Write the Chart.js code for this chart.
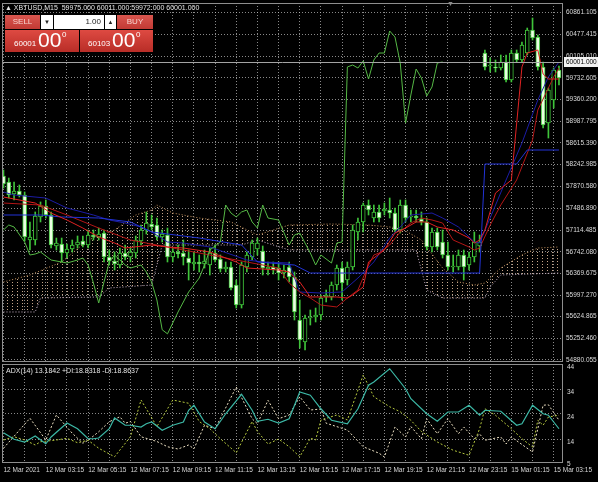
<!DOCTYPE html>
<html>
<head>
<meta charset="utf-8">
<title>XBTUSD,M15</title>
<script src="https://cdn.jsdelivr.net/npm/chart.js@4.4.1/dist/chart.umd.min.js"></script>
<style>
  body { margin: 0; background: #000; width: 598px; height: 482px; overflow: hidden; position: relative; font-family: "Liberation Sans", Arial, sans-serif; }
  canvas { position: absolute; left: 0; }
  #main { top: 0; }
  #adx { top: 355px; }
  .txt { position: absolute; color: #e4e4e4; font-size: 7px; line-height: 8px; white-space: pre; }
  .pn { position: absolute; box-sizing: border-box; overflow: hidden; }
  .top { top: 15px; height: 14px; line-height: 14px; font-size: 8px; text-align: center; }
  .red { background: linear-gradient(#d9564f, #c23a34); color: #f8d4cf; }
  .wht { background: #fff; color: #222; }
  .pbox { top: 30px; height: 22px; background: linear-gradient(#de4a42, #b82d27); color: #fff; }
  .pbox span { position: absolute; line-height: 1; }
  .sm { font-size: 8px; top: 10px; }
  .big { font-size: 21px; top: -1px; }
  .sup { font-size: 8px; top: 1px; }
</style>
</head>
<body>
<canvas id="main" width="598" height="363"></canvas>
<canvas id="adx" width="598" height="127"></canvas>

<div class="txt" style="left:5px;top:4px">▲ XBTUSD,M15  59975.000 60011.000 59972.000 60001.000</div>
<div class="txt" style="left:447px;top:0px;color:#8a8a8a">▼</div>
<div class="txt" style="left:6px;top:367px">ADX(14) 13.1842 +DI:18.8318 -DI:18.8637</div>

<div class="pn top red" style="left:5px;width:35px">SELL</div>
<div class="pn top wht" style="left:41px;width:12px;font-size:6px">▼</div>
<div class="pn top wht" style="left:54px;width:50px;text-align:right;padding-right:3px">1.00</div>
<div class="pn top wht" style="left:105px;width:11px;font-size:6px">▲</div>
<div class="pn top red" style="left:117px;width:36px">BUY</div>
<div class="pn pbox" style="left:5px;width:74px"><span class="sm" style="left:9px">60001</span><span class="big" style="left:33px">00</span><span class="sup" style="left:57px">0</span></div>
<div class="pn pbox" style="left:80px;width:73px"><span class="sm" style="left:8px">60103</span><span class="big" style="left:32px">00</span><span class="sup" style="left:56px">0</span></div>

<script>
// M15 bars, index 0 = 12 Mar 2021 01:15, weekend gap after bar 90
const opens = [
  58045, 57942, 57735, 57787, 57718, 56944, 56944, 57340, 57529, 57374,
  56841, 56875, 56720, 56789, 56858, 56927, 56858, 57030, 56996, 57064,
  56652, 56583, 56514, 56720, 56652, 56720, 56927, 57116, 57219, 57202,
  56996, 57030, 56652, 56738, 56720, 56634, 56531, 56566, 56531, 56514,
  56720, 56617, 56445, 56480, 56170, 55826, 56480, 56652, 56789, 56755,
  56445, 56480, 56462, 56376, 56480, 56308, 55568, 55190, 55602, 55620,
  55654, 55964, 55964, 56170, 56462, 56256, 56480, 57082, 57254, 57546,
  57322, 57426, 57443, 57460, 57408, 57116, 57546, 57340, 57357, 57305,
  57254, 56824, 57082, 56910, 56686, 56480, 56480, 56686, 56514, 56652,
  56841, 60160, 59937, 59920, 59902, 60006, 59696, 60160, 60040, 60160,
  60556, 60436, 59920, 58956, 59352, 59868
];
const highs = [
  58148, 58010, 57942, 57890, 57770, 57254, 57426, 57598, 57632, 57426,
  56978, 56978, 56875, 56944, 57013, 57013, 57116, 57116, 57150, 57116,
  56772, 56738, 56806, 56858, 56806, 57013, 57202, 57426, 57374, 57322,
  57116, 57150, 56806, 56858, 56944, 56772, 56738, 56686, 56772, 56806,
  56858, 56686, 56566, 56566, 56256, 56566, 56738, 56944, 56978, 56841,
  56566, 56566, 56566, 56514, 56566, 56394, 55912, 55654, 55740, 55774,
  55998, 56084, 56222, 56514, 56566, 56566, 57202, 57322, 57580, 57632,
  57546, 57546, 57580, 57666, 57494, 57632, 57632, 57460, 57460, 57426,
  57322, 57150, 57150, 57116, 56910, 56686, 56772, 56772, 56738, 57082,
  57030, 60212, 60074, 60040, 60126, 60126, 60212, 60212, 60350, 60590,
  60762, 60470, 60006, 59558, 59902, 59937
];
const lows = [
  57838, 57666, 57632, 57684, 56927, 56772, 56858, 57254, 57322, 56806,
  56772, 56566, 56634, 56738, 56806, 56824, 56806, 56944, 56944, 56566,
  56514, 56428, 56462, 56600, 56566, 56634, 56858, 57047, 57116, 56944,
  56910, 56566, 56566, 56634, 56514, 56256, 56428, 56394, 56462, 56342,
  56566, 56394, 56394, 56084, 55774, 55774, 56394, 56600, 56686, 56342,
  56342, 56359, 56256, 56290, 56222, 55568, 55086, 55052, 55482, 55534,
  55568, 55878, 55912, 56084, 55912, 56170, 56428, 56944, 57082, 57374,
  57254, 57254, 57374, 57322, 57082, 57064, 57254, 57254, 57254, 57202,
  56772, 56738, 56772, 56634, 56428, 56394, 56428, 56256, 56428, 56566,
  56738, 59868, 59834, 59834, 59868, 59662, 59662, 60006, 60006, 60126,
  60384, 59868, 58870, 58698, 59214, 59610
];
const closes = [
  57907, 57718, 57787, 57718, 56996, 56996, 57357, 57529, 57374, 56858,
  56892, 56720, 56789, 56858, 56910, 56858, 57030, 56996, 57047, 56652,
  56583, 56531, 56720, 56652, 56738, 56944, 57116, 57236, 57168, 56996,
  57047, 56652, 56738, 56703, 56652, 56548, 56566, 56531, 56583, 56720,
  56600, 56445, 56480, 56118, 55826, 56514, 56686, 56892, 56892, 56462,
  56480, 56428, 56376, 56428, 56308, 55706, 55224, 55602, 55620, 55654,
  55946, 55998, 56170, 56462, 56204, 56480, 57116, 57254, 57546, 57460,
  57426, 57322, 57477, 57408, 57116, 57546, 57322, 57357, 57322, 57254,
  56824, 57082, 56824, 56686, 56480, 56497, 56686, 56480, 56652, 56910,
  56910, 59920, 59954, 59902, 60006, 59696, 60160, 60040, 60298, 60556,
  60418, 59920, 58922, 59524, 59868, 59730
];

// indicator lines as [bar, value]
const tenkan = [[0,57684],[6,57580],[9,57408],[12,57288],[15,57150],[18,56996],[21,56892],[23,56806],[28,56858],[31,56824],[34,56806],[39,56738],[44,56566],[46,56462],[52,56428],[54,56394],[56,56222],[58,55964],[63,55964],[65,55946],[66,55998],[68,56136],[69,56566],[72,56772],[74,57064],[76,57150],[78,57254],[80,57254],[82,57168],[85,57116],[88,56978],[89,56892],[90,56944],[91,57116],[93,57752],[96,57976],[98,59920],[99,60160],[101,60212],[102,59799],[103,59713],[105,59713]];
const redMa = [[0,57580],[7,57546],[12,57374],[18,57150],[24,56944],[28,56875],[34,56772],[39,56686],[46,56566],[52,56462],[54,56204],[56,56050],[58,55946],[60,55826],[63,55792],[65,55946],[67,56084],[69,56514],[70,56686],[71,56720],[73,56858],[75,57082],[77,57236],[79,57322],[81,57288],[83,57236],[85,56944],[88,56824],[89,56772],[90,56806],[92,57202],[94,57546],[97,57976],[100,58664],[101,59180],[104,59748],[105,59902]];
const kijun = [[0,57374],[7,57374],[11,57340],[18,57322],[24,57254],[28,57082],[37,56978],[45,56858],[48,56566],[55,56514],[58,56376],[90,56376],[91,58251],[97,58251],[99,58492],[105,58492]];
const blueMa = [[0,57770],[2,57718],[8,57666],[12,57494],[17,57374],[20,57288],[23,57236],[26,57168],[28,57082],[31,56910],[34,56892],[39,56824],[46,56600],[49,56566],[54,56548],[56,56050],[60,56032],[64,56050],[67,56290],[70,56566],[73,56978],[75,57168],[77,57374],[81,57408],[83,57322],[86,57168],[89,56910],[90,56892],[95,57976],[98,58612],[101,59352],[103,59748],[105,60006]];
const chikou = [[0,57116],[1,57202],[2,57168],[4,56910],[5,56686],[6,56703],[7,56738],[9,56600],[12,56548],[14,56600],[15,56634],[16,56514],[17,56204],[18,55860],[19,56222],[20,56566],[21,56686],[23,56514],[24,56462],[26,56514],[27,56394],[28,56222],[29,55912],[30,55400],[31,55330],[33,55706],[35,56050],[37,56290],[38,56514],[39,56772],[41,56910],[42,57546],[43,57408],[44,57340],[45,57426],[46,57460],[47,57254],[48,57150],[49,57546],[50,57322],[52,57288],[54,56858],[55,57030],[56,57064],[58,56720],[59,56514],[60,56686],[62,56548],[63,56892],[64,56910],[65,59920],[66,59954],[67,59902],[68,60023],[69,59713],[70,60040],[71,60160],[72,60160],[73,60539],[74,60436],[75,59988],[76,58956],[77,59438],[78,59885],[79,59730],[80,59421],[81,59576],[82,59988],[83,60006]];
const senkouA = [[0,56222],[5,56342],[11,56566],[16,56944],[21,57116],[25,57374],[28,57460],[29,57546],[32,57408],[37,57322],[43,57254],[48,57030],[51,57116],[54,57202],[62,57219],[69,57202],[75,57150],[79,56944],[83,56462],[86,56222],[89,56170],[91,56204],[94,56462],[98,56686],[101,56806],[105,56824]];
const senkouB = [[0,55706],[6,55706],[7,55946],[18,55964],[20,56118],[28,56170],[30,56858],[45,56858],[48,56944],[54,56772],[78,56772],[80,56084],[83,55946],[91,55946],[92,56136],[94,56342],[105,56376]];

const adxLine = [[0,16.5],[2,13.9],[4,12.8],[6,15.2],[8,12.1],[9,14.8],[12,20.4],[14,18.1],[16,14.1],[17,14.1],[18,14.4],[20,18.1],[21,22.4],[23,19.5],[24,19.5],[26,18.8],[27,20.1],[28,20.8],[30,17.5],[32,19.5],[34,20.8],[35,25.5],[36,27.5],[38,20.8],[40,18.1],[42,24.1],[45,31.9],[47,25.5],[48,21.1],[50,21.9],[52,20.4],[54,22.1],[56,32.8],[58,31.5],[60,26.1],[62,21.5],[65,20.1],[67,26.1],[69,35.5],[70,36.8],[73,42.1],[76,34.1],[77,30.1],[80,24.1],[82,21.1],[84,24.8],[86,24.8],[88,27.5],[90,23.5],[91,25.5],[94,25.1],[97,19.5],[98,20.1],[100,27.5],[102,24.1],[103,23.5],[105,18.1]];
const plusDi = [[0,13.6],[2,14.9],[4,13.6],[6,11.6],[7,12.9],[10,13.6],[12,14.3],[14,12.5],[16,13.5],[18,10.3],[21,6.9],[24,14.9],[26,29.6],[29,19],[32,29.6],[35,28.3],[37,21],[39,18.1],[41,14.1],[44,8.5],[47,21],[48,17],[50,12],[52,14],[54,10.9],[56,6.9],[58,14.3],[59,13.6],[60,21.6],[63,23.6],[65,21.6],[68,39.6],[70,30.9],[73,26.9],[75,24.9],[77,21.5],[79,17],[82,12.8],[85,9.5],[88,7.5],[90,18.1],[91,26.1],[93,23.5],[96,18.1],[98,14.1],[100,10.8],[101,21.5],[102,19.5],[103,22.8],[105,23.5]];
const minusDi = [[0,10.3],[5,22.3],[8,13.6],[10,23.6],[13,16.3],[15,12.3],[16,13.5],[18,16.9],[20,20.9],[22,22.9],[23,20.3],[24,21],[26,14.9],[29,13],[31,10.9],[33,10],[35,11.6],[36,10.1],[38,19.5],[40,18.1],[44,34.8],[47,22.1],[48,20.1],[50,29.5],[52,22.1],[54,23.6],[56,30.9],[58,25.6],[60,26],[61,20.3],[65,17.6],[68,10.9],[71,8.3],[72,6.8],[74,18.8],[76,14.8],[77,19],[79,14.1],[80,22.1],[82,16.1],[84,22.1],[86,16.1],[87,18.8],[89,14.1],[90,16],[91,13.5],[94,14.8],[95,12],[96,14.8],[100,8.8],[102,27.5],[103,27.7],[105,21.5]];

const priceTicks = [60861.105, 60477.415, 60105.010, 59732.605, 59360.200, 58987.795, 58615.390, 58242.985, 57870.580, 57486.890, 57114.485, 56742.080, 56369.675, 55997.270, 55624.865, 55252.460, 54880.055];
const adxTicks = [5, 14, 24, 34, 44];
const bidPrice = 60001.000;
const gridBars = [0, 4, 8, 12, 16, 20, 24, 28, 32, 36, 40, 44, 48, 52, 56, 60, 64, 68, 72, 76, 80, 84, 88, 92, 96, 100, 104];
const labelBars = [0, 8, 16, 24, 32, 40, 48, 56, 64, 72, 80, 88, 96, 104];
const timeLabels = ['12 Mar 2021', '12 Mar 03:15', '12 Mar 05:15', '12 Mar 07:15', '12 Mar 09:15', '12 Mar 11:15', '12 Mar 13:15', '12 Mar 15:15', '12 Mar 17:15', '12 Mar 19:15', '12 Mar 21:15', '12 Mar 23:15', '15 Mar 01:15', '15 Mar 03:15'];

const xMin = -0.28, xMax = 105.76;
const gridColor = 'rgba(195,195,195,0.7)';
const candleGreen = '#3fc43a';

Chart.defaults.font.family = '"Liberation Sans", Arial, sans-serif';
Chart.defaults.font.size = 6.5;

const pts = arr => arr.map(([x, y]) => ({ x, y }));

function hatch(color) {
  const c = document.createElement('canvas');
  c.width = 5; c.height = 3;
  const g = c.getContext('2d');
  g.fillStyle = color;
  g.fillRect(2, 0, 1, 1);
  return g.createPattern(c, 'repeat');
}

const frame = {
  id: 'frame',
  afterDraw(chart) {
    const { ctx, chartArea: a } = chart;
    ctx.save();
    ctx.strokeStyle = '#8e8e8e';
    ctx.lineWidth = 1;
    ctx.strokeRect(Math.round(a.left) + 0.5, Math.round(a.top) + 0.5,
      Math.round(a.right - a.left) - 1, Math.round(a.bottom - a.top) - 1);
    ctx.restore();
  }
};

const bidLine = {
  id: 'bidLine',
  afterDatasetsDraw(chart) {
    const { ctx, chartArea: a, scales } = chart;
    const y = Math.round(scales.y.getPixelForValue(bidPrice)) + 0.5;
    ctx.save();
    ctx.strokeStyle = '#a4a4a4';
    ctx.lineWidth = 1;
    ctx.beginPath();
    ctx.moveTo(a.left, y);
    ctx.lineTo(a.right, y);
    ctx.stroke();
    ctx.fillStyle = '#f2f2f2';
    ctx.fillRect(a.right + 1, y - 5.5, 34, 10);
    ctx.fillStyle = '#000';
    ctx.font = '6.5px "Liberation Sans"';
    ctx.textBaseline = 'middle';
    ctx.fillText(bidPrice.toFixed(3), a.right + 3, y);
    ctx.restore();
  }
};

const line = (label, data, color, order, extra) => Object.assign({
  type: 'line', label, data: pts(data), borderColor: color, borderWidth: 1,
  pointRadius: 0, tension: 0, fill: false, order
}, extra || {});

new Chart(document.getElementById('main'), {
  type: 'bar',
  data: {
    datasets: [
      line('Senkou A', senkouA, '#c8955f', 9, {
        borderDash: [1, 2],
        fill: { target: '+1', above: hatch('rgba(214,178,146,0.92)'), below: hatch('rgba(222,206,222,0.9)') }
      }),
      line('Senkou B', senkouB, '#cbb4cb', 9, { borderDash: [1, 2] }),
      {
        label: 'wick',
        data: closes.map((c, i) => ({ x: i, y: [lows[i], highs[i]] })),
        backgroundColor: candleGreen, barThickness: 1, grouped: false, order: 6
      },
      {
        label: 'body',
        data: closes.map((c, i) => ({ x: i, y: [opens[i], c] })),
        backgroundColor: ctx => closes[ctx.dataIndex] < opens[ctx.dataIndex] ? '#eaffe2' : '#000',
        borderColor: candleGreen, borderWidth: 1, borderSkipped: false,
        barThickness: 4, minBarLength: 1, grouped: false, order: 5
      },
      line('MA red', redMa, '#b41616', 4),
      line('MA blue', blueMa, '#1c1ca6', 4),
      line('Tenkan-sen', tenkan, '#e02222', 3),
      line('Kijun-sen', kijun, '#2233d6', 3),
      line('Chikou Span', chikou, '#55b845', 2)
    ]
  },
  options: {
    responsive: false, animation: false, devicePixelRatio: 1, events: [],
    layout: { padding: { left: 2, top: 3, right: 0, bottom: 1 } },
    plugins: { legend: { display: false }, tooltip: { enabled: false } },
    scales: {
      x: {
        type: 'linear', min: xMin, max: xMax, offset: false,
        afterBuildTicks: s => { s.ticks = gridBars.map(v => ({ value: v })); },
        afterFit: s => { s.height = 0; s.paddingLeft = 0; s.paddingRight = 0; },
        ticks: { display: false },
        grid: { color: gridColor, drawTicks: false, offset: false },
        border: { display: false, dash: [1, 2] }
      },
      y: {
        type: 'linear', position: 'right', min: 54845.6, max: 61020.4,
        afterBuildTicks: s => { s.ticks = priceTicks.map(v => ({ value: v })); },
        afterFit: s => { s.width = 35; s.paddingTop = 0; s.paddingBottom = 0; },
        ticks: { color: '#dadada', padding: 3, autoSkip: false, callback: v => v.toFixed(3) },
        grid: { color: gridColor, drawTicks: false },
        border: { display: false, dash: [1, 2] }
      }
    }
  },
  plugins: [frame, bidLine]
});

new Chart(document.getElementById('adx'), {
  type: 'line',
  data: {
    datasets: [
      line('ADX', adxLine, '#3cb8a6', 1, { borderWidth: 1.2 }),
      line('+DI', plusDi, '#b6c93e', 2, { borderDash: [2, 2] }),
      line('-DI', minusDi, '#ece0c2', 3, { borderDash: [2, 2] })
    ]
  },
  options: {
    responsive: false, animation: false, devicePixelRatio: 1, events: [],
    layout: { padding: { left: 2, top: 9, right: 0, bottom: 0 } },
    plugins: { legend: { display: false }, tooltip: { enabled: false } },
    scales: {
      x: {
        type: 'linear', min: xMin, max: xMax, offset: false,
        afterBuildTicks: s => { s.ticks = gridBars.map(v => ({ value: v })); },
        afterFit: s => { s.height = 19; s.paddingLeft = 0; s.paddingRight = 0; },
        ticks: {
          color: '#d6d6d6', padding: 3, align: 'start', autoSkip: false, maxRotation: 0, minRotation: 0,
          callback: v => { const k = labelBars.indexOf(v); return k < 0 ? '' : timeLabels[k]; }
        },
        grid: { color: gridColor, drawTicks: false },
        border: { display: false, dash: [1, 2] }
      },
      y: {
        type: 'linear', position: 'right', min: 4.4, max: 44,
        afterBuildTicks: s => { s.ticks = adxTicks.map(v => ({ value: v })); },
        afterFit: s => { s.width = 35; s.paddingTop = 0; s.paddingBottom = 0; },
        ticks: { color: '#dadada', padding: 4, labelOffset: 3, autoSkip: false, callback: v => String(v) },
        grid: { color: c => (c.tick && c.tick.value > 5 && c.tick.value < 44) ? gridColor : 'rgba(0,0,0,0)', drawTicks: false },
        border: { display: false, dash: [1, 2] }
      }
    }
  },
  plugins: [frame]
});
</script>
</body>
</html>
